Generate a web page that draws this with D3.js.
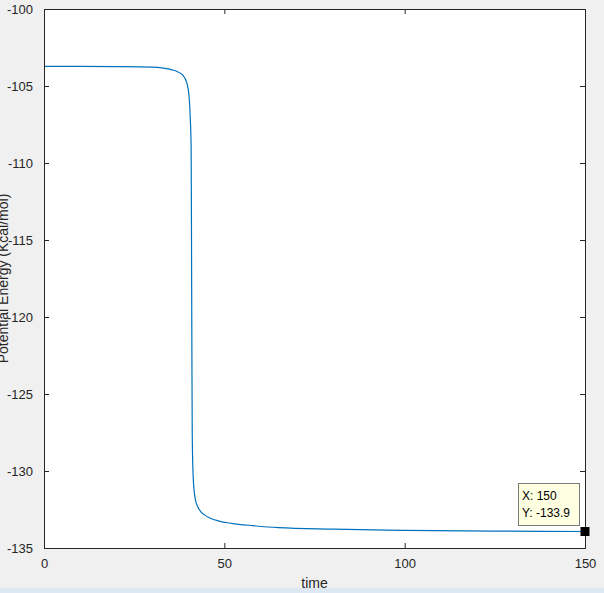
<!DOCTYPE html>
<html>
<head>
<meta charset="utf-8">
<script src="https://cdn.jsdelivr.net/npm/d3@7"></script>
<style>
  html, body { margin: 0; padding: 0; background: #f0f0f0; }
  svg { display: block; }
  text { font-family: "Liberation Sans", Arial, Helvetica, sans-serif; }
</style>
</head>
<body>
<svg id="chart" width="604" height="593"></svg>
<script>
// ---- data ----
const timeValues = [0, 10, 20, 30, 33, 35.5, 37, 38.5, 39.6, 40.2, 40.5, 40.8, 40.9, 41.0, 41.1, 41.3, 41.6, 42.0, 42.6, 43.5, 44.5, 46, 48.5, 52, 58, 65, 80, 100, 125, 150];
const energyValues = [-103.72, -103.72, -103.74, -103.78, -103.84, -103.95, -104.07, -104.3, -104.8, -105.6, -106.8, -109, -115, -122, -127.5, -130.0, -131.2, -131.9, -132.3, -132.65, -132.85, -133.05, -133.25, -133.4, -133.55, -133.68, -133.78, -133.86, -133.9, -133.93];
const xTicks = [0, 50, 100, 150];
const yTicks = [-135, -130, -125, -120, -115, -110, -105, -100];
const xDomain = [0, 150];
const yDomain = [-135, -100];
const xLabel = "time";
const yLabel = "Potential Energy (Kcal/mol)";
const tipX = 150, tipY = -133.93;
const tipLines = ["X: 150", "Y: -133.9"];

// ---- layout ----
const L = 44, R = 585, T = 9, B = 548;
const svg = d3.select("#chart");
const axisColor = "#262626";

svg.append("rect").attr("x", 0).attr("y", 0).attr("width", 604).attr("height", 593).attr("fill", "#f0f0f0");
svg.append("rect").attr("x", 0).attr("y", 588).attr("width", 604).attr("height", 5).attr("fill", "#dde8f4");

const x = d3.scaleLinear().domain(xDomain).range([L, R]);
const y = d3.scaleLinear().domain(yDomain).range([B, T]);

svg.append("rect").attr("x", L).attr("y", T).attr("width", R - L).attr("height", B - T).attr("fill", "#ffffff");

// data line
const data = timeValues.map((t, i) => ({ t, e: energyValues[i] }));
svg.append("path")
  .datum(data)
  .attr("fill", "none")
  .attr("stroke", "#0072BD")
  .attr("stroke-width", 1.2)
  .attr("d", d3.line().x(d => x(d.t)).y(d => y(d.e)).curve(d3.curveMonotoneX));

// axes (ticks inward, box)
const fmt = d => String(d);
function styleAxis(g) {
  g.select(".domain").remove();
  g.selectAll(".tick line").attr("stroke", axisColor);
  g.selectAll(".tick text").attr("fill", axisColor).style("font-size", "13px");
}
svg.append("g").attr("transform", `translate(0,${B})`)
  .call(d3.axisBottom(x).tickValues(xTicks).tickSizeInner(-5).tickSizeOuter(0).tickPadding(11).tickFormat(fmt))
  .call(styleAxis);
svg.append("g").attr("transform", `translate(0,${T})`)
  .call(d3.axisTop(x).tickValues(xTicks).tickSizeInner(-5).tickSizeOuter(0).tickFormat(""))
  .call(styleAxis);
svg.append("g").attr("transform", `translate(${L},0)`)
  .call(d3.axisLeft(y).tickValues(yTicks).tickSizeInner(-5).tickSizeOuter(0).tickPadding(11).tickFormat(fmt))
  .call(styleAxis);
svg.append("g").attr("transform", `translate(${R},0)`)
  .call(d3.axisRight(y).tickValues(yTicks).tickSizeInner(-5).tickSizeOuter(0).tickFormat(""))
  .call(styleAxis);

svg.append("rect").attr("x", L).attr("y", T).attr("width", R - L).attr("height", B - T)
  .attr("fill", "none").attr("stroke", axisColor).attr("stroke-width", 1).attr("shape-rendering", "crispEdges");

// labels
svg.append("text").attr("x", (L + R) / 2).attr("y", 588).attr("text-anchor", "middle")
  .attr("fill", axisColor).style("font-size", "14px").text(xLabel);
svg.append("text").attr("transform", `translate(8,${(T + B) / 2}) rotate(-90)`).attr("text-anchor", "middle")
  .attr("fill", axisColor).style("font-size", "14px").text(yLabel);

// datatip
const mx = x(tipX), my = y(tipY);
const tg = svg.append("g");
tg.append("rect").attr("x", 518.5).attr("y", 483.5).attr("width", 61).attr("height", 42)
  .attr("fill", "#ffffe1").attr("stroke", "#7a7a7a").attr("stroke-width", 1);
tipLines.forEach((s, i) => {
  tg.append("text").attr("x", 522).attr("y", 500 + i * 17).attr("fill", "#000").style("font-size", "12px").text(s);
});
tg.append("rect").attr("x", mx - 4.5).attr("y", my - 4.5).attr("width", 9).attr("height", 9).attr("fill", "#000");
</script>
</body>
</html>
